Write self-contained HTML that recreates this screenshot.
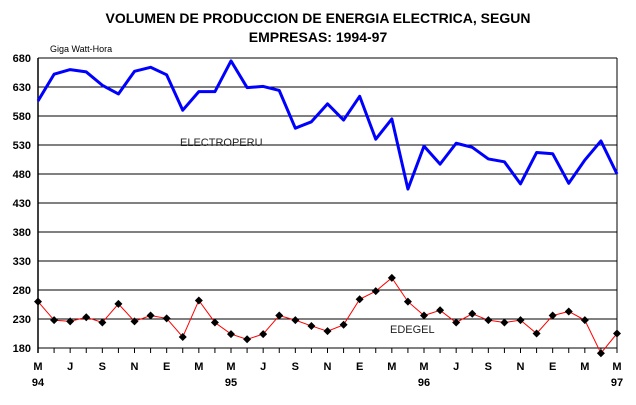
<!DOCTYPE html>
<html><head><meta charset="utf-8"><style>
body{margin:0;background:#fff}
svg{display:block;font-family:"Liberation Sans",Arial,sans-serif}
</style></head><body>
<svg id="chart" width="636" height="405" viewBox="0 0 636 405">
<text x="318" y="23" text-anchor="middle" font-size="14" font-weight="bold">VOLUMEN DE PRODUCCION DE ENERGIA ELECTRICA, SEGUN</text>
<text x="318" y="42" text-anchor="middle" font-size="14" font-weight="bold">EMPRESAS: 1994-97</text>
<text x="50" y="52" font-size="9">Giga Watt-Hora</text>
<g id="grid"></g><g id="axes"></g><g id="series"></g>
<text x="180" y="146" font-size="11" fill="#222">ELECTROPERU</text>
<text x="390" y="333" font-size="11" fill="#222">EDEGEL</text>
</svg>
<script>
const electroperu=[606,652,660,656,633,618,657,664,651,590,622,622,675,629,631,624,559,570,601,573,614,540,575,454,528,497,533,526,506,501,463,517,515,464,504,537,480];
const edegel=[260,228,226,233,224,256,226,236,231,199,262,224,204,195,204,236,228,218,209,220,264,278,301,260,236,245,224,239,228,224,228,205,236,243,228,171,205];
const monthLabels=["M","J","S","N","E","M","M","J","S","N","E","M","M","J","S","N","E","M","M"];
const yearLabels=[[0,"94"],[12,"95"],[24,"96"],[36,"97"]];
const yTicks=[180,230,280,330,380,430,480,530,580,630,680];
const NS="http://www.w3.org/2000/svg";
const X0=38,X1=617,Y0=58,Y1=348;
const xs=i=>X0+(X1-X0)*i/36;
const ys=v=>Y1-(v-180)/(680-180)*(Y1-Y0);
function mk(tag,attrs,parent){const e=document.createElementNS(NS,tag);for(const k in attrs)e.setAttribute(k,attrs[k]);parent.appendChild(e);return e;}
const grid=document.getElementById('grid'),axes=document.getElementById('axes'),series=document.getElementById('series');
yTicks.forEach(v=>{
 const l=mk('line',{x1:X0,x2:X1,y1:ys(v),y2:ys(v),stroke:'#000','stroke-width':1},grid);
 
 
 const t=mk('text',{x:31,y:ys(v)+4,'text-anchor':'end','font-size':11,'font-weight':'bold'},axes);
 t.textContent=v;
 
 
});
const ya=mk('line',{x1:X0,x2:X0,y1:Y0,y2:Y1+5,stroke:'#000','stroke-width':1.5},axes);


const rb=mk('line',{x1:X1,x2:X1,y1:Y0,y2:Y1+5,stroke:'#000','stroke-width':1},axes);


for(let i=0;i<=36;i++){
 const tk=mk('line',{x1:xs(i),x2:xs(i),y1:Y1,y2:Y1+5,stroke:'#000'},axes);
 
 
}
monthLabels.forEach((m,j)=>{
 const t=mk('text',{x:xs(j*2),y:370,'text-anchor':'middle','font-size':11,'font-weight':'bold'},axes);
 t.textContent=m;
 
 
});
yearLabels.forEach(([i,y])=>{
 const t=mk('text',{x:xs(i),y:386,'text-anchor':'middle','font-size':11,'font-weight':'bold'},axes);
 t.textContent=y;
 
 
});
const p1=mk('polyline',{points:electroperu.map((v,i)=>xs(i)+','+ys(v)).join(' '),fill:'none',stroke:'#0000ff','stroke-width':3,'stroke-linejoin':'round'},series);


const p2=mk('polyline',{points:edegel.map((v,i)=>xs(i)+','+ys(v)).join(' '),fill:'none',stroke:'#ff0000','stroke-width':1},series);


edegel.forEach((v,i)=>{
 const x=xs(i),y=ys(v);
 const d=mk('polygon',{points:`${x},${y-4} ${x+4},${y} ${x},${y+4} ${x-4},${y}`,fill:'#000'},series);
 
 
});
</script>
</body></html>
